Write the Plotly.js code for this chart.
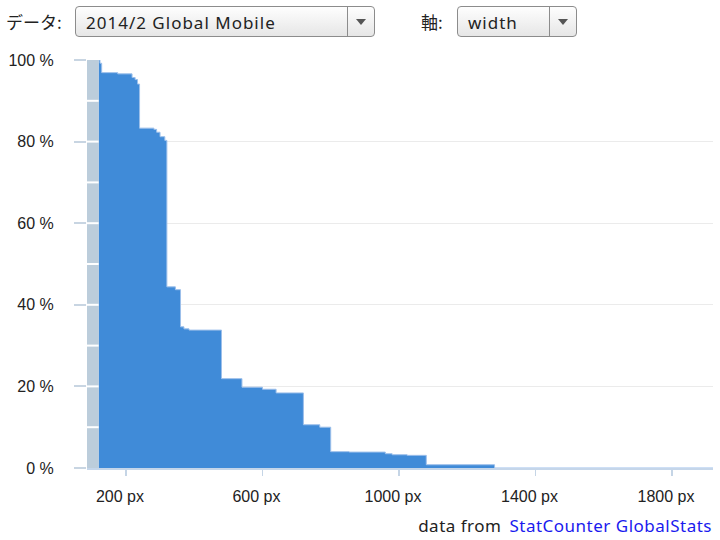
<!DOCTYPE html>
<html>
<head>
<meta charset="utf-8">
<script src="https://cdn.plot.ly/plotly-3.0.1.min.js"></script>
<style>
  html, body { margin:0; padding:0; background:#fff; }
  #wrap { position:relative; width:720px; height:540px; overflow:hidden; }
  #chart { position:absolute; left:0; top:0; width:720px; height:540px; }
  .hdr { position:absolute; font-family:"Noto Sans CJK JP","Noto Sans",sans-serif; font-size:17px; color:#222; z-index:5; }
  .sel { position:absolute; top:6px; height:31px; border:1px solid #8c8c8c; border-radius:4px;
         background:linear-gradient(#fefefe,#e6e6e6); box-sizing:border-box; z-index:5;
         font-family:"Noto Sans","Noto Sans CJK JP",sans-serif; font-size:17px; color:#222; letter-spacing:1px; }
  .sel .txt { position:absolute; left:10px; top:3px; line-height:26px; }
  .sel .arr { position:absolute; top:0; right:0; bottom:0; width:26px; border-left:1px solid #8c8c8c; }
  .sel .arr:after { content:""; position:absolute; left:8px; top:12px; border-left:5px solid transparent;
         border-right:5px solid transparent; border-top:6px solid #555; }
  #foot { position:absolute; right:8px; top:514px; font-family:"Noto Sans","Noto Sans CJK JP",sans-serif;
          font-size:17px; color:#222; z-index:5; letter-spacing:0.5px; }
  #foot a { color:#1a1aee; text-decoration:none; margin-left:8px; }
</style>
</head>
<body>
<div id="wrap">
  <div id="chart"></div>
  <div class="hdr" style="left:6px; top:9px;">データ:</div>
  <div class="sel" style="left:75px; width:300px;"><span class="txt">2014/2 Global Mobile</span><span class="arr"></span></div>
  <div class="hdr" style="left:421px; top:9px;">軸:</div>
  <div class="sel" style="left:457px; width:120px;"><span class="txt">width</span><span class="arr"></span></div>
  <div id="foot">data from<a href="#">StatCounter GlobalStats</a></div>
</div>
<script>
// screen width (px) where each step begins
var widths = [120, 124, 129, 176, 218, 227, 234, 240, 282, 290, 300, 314, 320, 345, 360, 370, 385,
              480, 540, 600, 640, 720, 768, 800, 854, 960, 980, 1024, 1080, 1280, 1920];
// share of users (%) with screen width >= that step
var shares = [100, 99.2, 96.9, 96.6, 95.7, 95.2, 94.1, 83.3, 83.0, 82.3, 81.2, 80.3, 44.4, 43.7, 34.6, 34.1, 33.8,
              21.9, 19.8, 19.3, 18.4, 10.6, 10.0, 4.0, 3.9, 3.5, 3.25, 3.1, 0.8, 0, 0];
var xTicks = [200, 600, 1000, 1400, 1800];
var yTicks = [0, 20, 40, 60, 80, 100];
var bandMarks = [10, 20, 30, 40, 50, 60, 70, 80, 90];
var xMin = 86, xMax = 1920;

var trace = {
  x: widths, y: shares, type: 'scatter', mode: 'lines',
  line: {shape: 'hv', color: '#9cbfea', width: 1},
  fill: 'tozeroy', fillcolor: '#408bd8', hoverinfo: 'skip'
};

var shapes = [{
  type: 'rect', xref: 'x', yref: 'y', x0: xMin, x1: widths[0], y0: 0, y1: 100,
  fillcolor: '#bccddb', line: {width: 0}, layer: 'above'
}];
bandMarks.forEach(function (v) {
  shapes.push({type: 'line', xref: 'x', yref: 'y', x0: xMin, x1: widths[0], y0: v, y1: v,
               line: {color: '#ffffff', width: 2}, layer: 'above'});
});

var layout = {
  width: 720, height: 540,
  margin: {l: 87, r: 7, t: 60, b: 72, pad: 0},
  paper_bgcolor: '#ffffff', plot_bgcolor: '#ffffff',
  showlegend: false,
  font: {family: '"Liberation Sans", Arial, sans-serif', size: 16, color: '#222'},
  xaxis: {
    range: [xMin, xMax], tickvals: xTicks, ticktext: xTicks.map(function (v) { return v + ' px'; }),
    ticks: 'outside', ticklen: 6, tickwidth: 1.5, tickcolor: '#c5d5e6',
    showgrid: false, zeroline: false, showline: true, linecolor: '#c5d6ea', linewidth: 2,
    ticklabelshift: -6, ticklabelstandoff: 7, fixedrange: true
  },
  yaxis: {
    range: [0, 100], tickvals: yTicks, ticktext: yTicks.map(function (v) { return v + ' %'; }),
    ticks: 'outside', ticklen: 12, tickwidth: 2, tickcolor: '#c8d5e2',
    showgrid: true, gridcolor: '#ebebeb', gridwidth: 1, zeroline: false, showline: false,
    ticklabelstandoff: 17, fixedrange: true
  },
  shapes: shapes
};

Plotly.newPlot('chart', [trace], layout, {displayModeBar: false, staticPlot: true});
</script>
</body>
</html>
